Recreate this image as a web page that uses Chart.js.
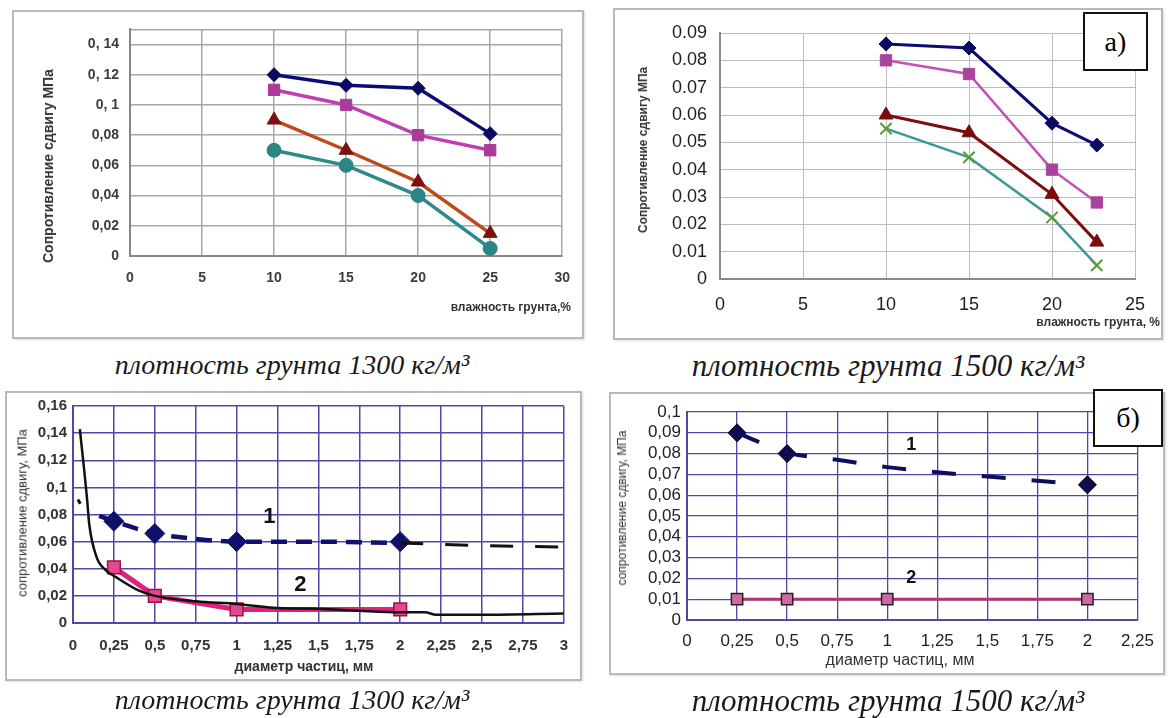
<!DOCTYPE html>
<html>
<head>
<meta charset="utf-8">
<script src="https://cdn.jsdelivr.net/npm/chart.js@4"></script>
<style>
body { margin: 0; background: #fff; width: 1168px; height: 718px; overflow: hidden; position: relative; font-family: "Liberation Sans", Arial, sans-serif; }
.box { position: absolute; border: 2px solid #b9b9b9; box-sizing: border-box; background: #fff; box-shadow: 1px 1px 2px #ddd; }
canvas { position: absolute; }
.t { position: absolute; white-space: nowrap; color: #2a2a2a; line-height: 1; }
.rot { transform: translate(-50%, -50%) rotate(-90deg); }
.mid { transform: translate(-50%, -50%); }
.cap { position: absolute; transform: translate(-50%, -50%); font-family: "Liberation Serif", "Times New Roman", serif; font-style: italic; font-size: 31px; white-space: nowrap; color: #1a1a1a; line-height: 1; }
.tag { position: absolute; border: 2px solid #111; background: #fff; font-family: "Liberation Serif", serif; font-size: 28px; box-sizing: border-box; display: flex; align-items: center; justify-content: center; }
</style>
</head>
<body>

<div class="box" style="left:12px;top:10px;width:572px;height:329px"></div>
<div class="box" style="left:613px;top:8px;width:550px;height:332px"></div>
<div class="box" style="left:5px;top:391px;width:577px;height:290px"></div>
<div class="box" style="left:609px;top:392px;width:556px;height:283px"></div>

<canvas id="chartA1300" width="572" height="329" style="left:12px;top:10px"></canvas>
<canvas id="chartA1500" width="550" height="332" style="left:613px;top:8px"></canvas>
<canvas id="chartB1300" width="577" height="290" style="left:5px;top:391px"></canvas>
<canvas id="chartB1500" width="556" height="283" style="left:609px;top:392px"></canvas>

<div class="t rot" style="left:48px;top:166px;font-size:14px;font-weight:bold;color:#333">Сопротивление сдвигу МПа</div>
<div class="t" style="right:597px;top:301px;font-size:12px;font-weight:bold;color:#333">влажность грунта,%</div>
<div class="t rot" style="left:643px;top:150px;font-size:12px;font-weight:bold;color:#333">Сопротивление сдвигу МПа</div>
<div class="t" style="right:8px;top:316px;font-size:12px;font-weight:bold;color:#333">влажность грунта, %</div>
<div class="t rot" style="left:22px;top:513px;font-size:13px;color:#333">сопротивление сдвигу, МПа</div>
<div class="t mid" style="left:304px;top:666px;font-size:14px;font-weight:bold;color:#333">диаметр частиц, мм</div>
<div class="t rot" style="left:622px;top:508px;font-size:12px;color:#333">сопротивление сдвигу, МПа</div>
<div class="t mid" style="left:900px;top:660px;font-size:16px;color:#333">диаметр частиц, мм</div>

<div class="tag" style="left:1083px;top:12px;width:65px;height:59px">а)</div>
<div class="tag" style="left:1093px;top:389px;width:70px;height:58px">б)</div>

<div class="cap" style="left:292px;top:365px;font-size:28px">плотность грунта 1300 кг/м³</div>
<div class="cap" style="left:888px;top:365px">плотность грунта 1500 кг/м³</div>
<div class="cap" style="left:292px;top:700px;font-size:28px">плотность грунта 1300 кг/м³</div>
<div class="cap" style="left:888px;top:700px">плотность грунта 1500 кг/м³</div>

<script>
// а) shear resistance vs soil moisture, 1300 kg/m3
const moisture1300 = [10, 15, 20, 25];
const a1300_1 = [0.12, 0.113, 0.111, 0.081];
const a1300_2 = [0.11, 0.10, 0.08, 0.07];
const a1300_3 = [0.09, 0.07, 0.049, 0.015];
const a1300_4 = [0.07, 0.06, 0.04, 0.005];

// а) 1500 kg/m3
const moisture1500 = [10, 15, 20, 22.7];
const a1500_1 = [0.086, 0.0845, 0.057, 0.049];
const a1500_2 = [0.08, 0.075, 0.04, 0.028];
const a1500_3 = [0.06, 0.0535, 0.031, 0.0135];
const a1500_4 = [0.055, 0.0445, 0.0225, 0.005];

// б) shear resistance vs particle diameter, 1300 kg/m3
const diam = [0.25, 0.5, 1, 2];
const b1300_1 = [0.075, 0.066, 0.06, 0.06];
const b1300_2 = [0.041, 0.02, 0.01, 0.01];
const b1300_trend1X = [0.16, 0.25, 0.5, 0.75, 1, 1.5, 2];
const b1300_trend1Y = [0.079, 0.075, 0.066, 0.062, 0.06, 0.06, 0.059];
const b1300_tailX = [0.03, 0.045, null, 2, 2.5, 3];
const b1300_tailY = [0.091, 0.088, null, 0.059, 0.057, 0.056];
const b1300_curveX = [0.042, 0.087, 0.099, 0.143, 0.2, 0.26, 0.4, 0.5, 0.75, 1, 1.25, 1.5, 1.75, 2, 2.15, 2.22, 2.5, 3];
const b1300_curveY = [0.143, 0.09, 0.073, 0.049, 0.039, 0.034, 0.024, 0.02, 0.016, 0.014, 0.011, 0.0105, 0.009, 0.008, 0.008, 0.006, 0.006, 0.007];

// б) 1500 kg/m3
const b1500_1X = [0.25, 0.5, 2];
const b1500_1 = [0.09, 0.08, 0.065];
const b1500_trend1X = [0.25, 0.5, 0.75, 1, 1.25, 1.5, 1.75, 2];
const b1500_trend1Y = [0.09, 0.0805, 0.077, 0.0735, 0.071, 0.069, 0.067, 0.065];
const b1500_2 = [0.01, 0.01, 0.01, 0.01];

// tick values and labels
const moistTicks1300 = [0, 5, 10, 15, 20, 25, 30];
const moistTicks1500 = [0, 5, 10, 15, 20, 25];
const yTicksA1300 = [0, 0.02, 0.04, 0.06, 0.08, 0.1, 0.12, 0.14, 0.15];
const yLabelsA1300 = ['0', '0,02', '0,04', '0,06', '0,08', '0, 1', '0, 12', '0, 14', ''];
const yTicksA1500 = [0, 0.01, 0.02, 0.03, 0.04, 0.05, 0.06, 0.07, 0.08, 0.09];
const yLabelsA1500 = ['0', '0.01', '0.02', '0.03', '0.04', '0.05', '0.06', '0.07', '0.08', '0.09'];
const dTicks1300 = [0, 0.25, 0.5, 0.75, 1, 1.25, 1.5, 1.75, 2, 2.25, 2.5, 2.75, 3];
const dLabels1300 = ['0', '0,25', '0,5', '0,75', '1', '1,25', '1,5', '1,75', '2', '2,25', '2,5', '2,75', '3'];
const dTicks1500 = [0, 0.25, 0.5, 0.75, 1, 1.25, 1.5, 1.75, 2, 2.25];
const dLabels1500 = ['0', '0,25', '0,5', '0,75', '1', '1,25', '1,5', '1,75', '2', '2,25'];
const yTicksB1300 = [0, 0.02, 0.04, 0.06, 0.08, 0.1, 0.12, 0.14, 0.16];
const yLabelsB1300 = ['0', '0,02', '0,04', '0,06', '0,08', '0,1', '0,12', '0,14', '0,16'];
const yTicksB1500 = [0, 0.01, 0.02, 0.03, 0.04, 0.05, 0.06, 0.07, 0.08, 0.09, 0.1];
const yLabelsB1500 = ['0', '0,01', '0,02', '0,03', '0,04', '0,05', '0,06', '0,07', '0,08', '0,09', '0,1'];

// curve numbers written on the б) charts
const notesText = ['1', '2'];
const notesB1300X = [1.2, 1.39];
const notesB1300Y = [0.078, 0.028];
const notesB1500X = [1.12, 1.12];
const notesB1500Y = [0.084, 0.02];

function pts(xs, ys) {
    return xs.map(function(x, i) { return { x: x, y: ys[i] }; });
}

function axis(vals, labels, size, bold, color, pad, gridColor, gridWidth, borderColor, fit, isY) {
    return {
        type: 'linear',
        min: vals[0],
        max: vals[vals.length - 1],
        afterBuildTicks: function(s) { s.ticks = vals.map(function(v) { return { value: v }; }); },
        afterFit: function(s) { if (isY) s.width = fit; else s.height = fit; },
        ticks: {
            autoSkip: false, maxRotation: 0, padding: pad, color: color,
            font: { family: '"Liberation Sans", Arial, sans-serif', size: size, weight: bold ? 'bold' : 'normal' },
            callback: function(v, i) { return labels[i]; }
        },
        grid: { color: gridColor, lineWidth: gridWidth, drawTicks: false },
        border: { color: borderColor, width: 2 }
    };
}

function series(data, color, marker, markerColor, radius, width, extra) {
    return Object.assign({
        data: data, borderColor: color, borderWidth: width,
        pointStyle: marker, pointRadius: radius, pointBackgroundColor: markerColor,
        pointBorderColor: markerColor, pointBorderWidth: 1, tension: 0, fill: false
    }, extra || {});
}

function notesPlugin(xs, ys, font) {
    return {
        id: 'notes',
        afterDatasetsDraw: function(chart) {
            const ctx = chart.ctx;
            ctx.save();
            ctx.font = font;
            ctx.fillStyle = '#111';
            ctx.textAlign = 'center';
            ctx.textBaseline = 'middle';
            notesText.forEach(function(t, i) {
                ctx.fillText(t, chart.scales.x.getPixelForValue(xs[i]), chart.scales.y.getPixelForValue(ys[i]));
            });
            ctx.restore();
        }
    };
}

function draw(id, datasets, xScale, yScale, pad, plugins) {
    new Chart(document.getElementById(id), {
        type: 'line',
        data: { datasets: datasets },
        options: {
            responsive: false, animation: false, devicePixelRatio: 1,
            layout: { padding: pad },
            plugins: { legend: { display: false }, tooltip: { enabled: false } },
            scales: { x: xScale, y: yScale }
        },
        plugins: plugins || []
    });
}

// а) 1300
draw('chartA1300', [
    series(pts(moisture1300, a1300_1), '#0b0b78', 'rectRot', '#0a0a5e', 7, 3.5),
    series(pts(moisture1300, a1300_2), '#c03eb0', 'rect', '#a83c98', 8, 3.5),
    series(pts(moisture1300, a1300_3), '#bd4a18', 'triangle', '#7c1010', 8, 3.5),
    series(pts(moisture1300, a1300_4), '#2c8a8a', 'circle', '#2c8585', 7, 3.5)
],
    axis(moistTicks1300, moistTicks1300.map(String), 14, true, '#3c3c3c', 14, '#a8a8a8', 1.5, '#888', 83, false),
    axis(yTicksA1300, yLabelsA1300, 14, true, '#3c3c3c', 11, '#a8a8a8', 1.5, '#888', 118, true),
    { top: 13, right: 21, left: 0, bottom: 0 });

// а) 1500
draw('chartA1500', [
    series(pts(moisture1500, a1500_1), '#0c0c72', 'rectRot', '#0a0a60', 7, 3),
    series(pts(moisture1500, a1500_2), '#c450b4', 'rect', '#a8449e', 8, 2.5),
    series(pts(moisture1500, a1500_3), '#7e0e0e', 'triangle', '#7a0c0c', 8, 3),
    series(pts(moisture1500, a1500_4), '#3a9a92', 'crossRot', '#5a9a3a', 8, 2.5, { pointBorderWidth: 2 })
],
    axis(moistTicks1500, moistTicks1500.map(String), 18, false, '#1e1e1e', 15, '#bdbdbd', 1, '#8a8a8a', 61, false),
    axis(yTicksA1500, yLabelsA1500, 18, false, '#1e1e1e', 13, '#bdbdbd', 1, '#8a8a8a', 107, true),
    { top: 25, right: 28, left: 0, bottom: 0 });

// б) 1300
draw('chartB1300', [
    series(pts(b1300_curveX, b1300_curveY), '#111', 'circle', '#111', 0, 2.5, { cubicInterpolationMode: 'monotone' }),
    series(pts(b1300_tailX, b1300_tailY), '#111', 'circle', '#111', 0, 3, { borderDash: [23, 22], spanGaps: false }),
    series(pts(b1300_trend1X, b1300_trend1Y), '#10106e', 'circle', '#10106e', 0, 4.5, { borderDash: [16, 9], cubicInterpolationMode: 'monotone' }),
    series(pts(diam, b1300_1), 'rgba(0,0,0,0)', 'rectRot', '#10106a', 10, 0, { showLine: false }),
    series(pts(diam, b1300_2), '#e0207a', 'rect', '#e24a8c', 9, 5, { pointBorderColor: '#a0104a', pointBorderWidth: 1.5 })
],
    axis(dTicks1300, dLabels1300, 15, true, '#333', 14, '#5346aa', 1.5, '#5346aa', 58, false),
    axis(yTicksB1300, yLabelsB1300, 15, true, '#333', 6, '#5346aa', 1.5, '#5346aa', 68, true),
    { top: 14, right: 12, left: 0, bottom: 0 },
    [notesPlugin(notesB1300X, notesB1300Y, 'bold 22px "Liberation Sans", Arial, sans-serif')]);

// б) 1500
draw('chartB1500', [
    series(pts(b1500_trend1X, b1500_trend1Y), '#0e0e5a', 'circle', '#0e0e5a', 0, 4, { borderDash: [24, 26], cubicInterpolationMode: 'monotone' }),
    series(pts(b1500_1X, b1500_1), 'rgba(0,0,0,0)', 'rectRot', '#0c0c4e', 9, 0, { showLine: false, pointBorderColor: '#000' }),
    series(pts(diam, b1500_2), '#b33472', 'rect', '#d466a6', 8, 3, { pointBorderColor: '#222', pointBorderWidth: 1.5 })
],
    axis(dTicks1500, dLabels1500, 17, false, '#222', 11, '#5346aa', 1.3, '#5346aa', 55, false),
    axis(yTicksB1500, yLabelsB1500, 17, false, '#222', 6, '#5346aa', 1.3, '#5346aa', 78, true),
    { top: 20, right: 15, left: 0, bottom: 0 },
    [notesPlugin(notesB1500X, notesB1500Y, 'bold 18px "Liberation Sans", Arial, sans-serif')]);
</script>
</body>
</html>
